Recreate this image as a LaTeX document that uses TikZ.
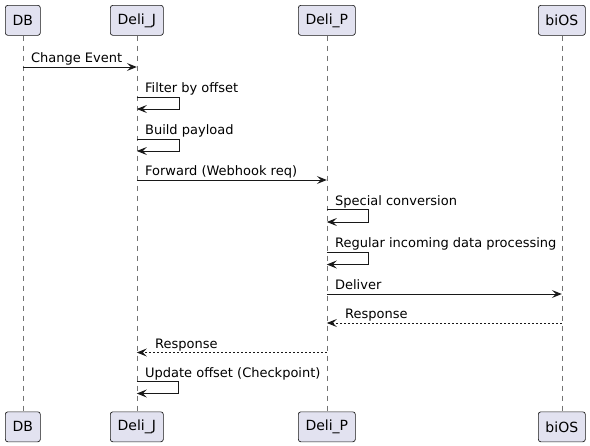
\documentclass[tikz,border=0pt]{standalone}
\usepackage{fontspec}
\setmainfont{DejaVu Sans}
\usetikzlibrary{arrows.meta}
\definecolor{boxfill}{HTML}{E2E2F0}
\definecolor{ink}{HTML}{181818}
\begin{document}
\begin{tikzpicture}[x=0.75pt,y=-0.75pt,
  part/.style={draw=ink, fill=boxfill, rounded corners=1.9pt, line width=0.5pt,
    inner sep=0pt, minimum height=22.5pt, anchor=north west,
    font=\fontsize{10.5pt}{12pt}\selectfont},
  life/.style={draw=ink!60, line width=0.5pt, dash pattern=on 3.75pt off 3.75pt},
  msg/.style={draw=ink, line width=0.75pt, -{Stealth[length=7.5pt,width=6pt,inset=3pt]}},
  ret/.style={msg, dash pattern=on 1.5pt off 1.5pt},
  lbl/.style={anchor=base west, inner sep=0pt, font=\fontsize{9.75pt}{11pt}\selectfont, text=black}]
\useasboundingbox (0,0) rectangle (590,446);
% participants top
\node[part, minimum width=26.25pt] (DBt) at (5,5) {DB};
\node[part, minimum width=39.75pt] (DJt) at (110,5) {Deli\_J};
\node[part, minimum width=42.75pt] (DPt) at (298,5) {Deli\_P};
\node[part, minimum width=35.25pt] (BIt) at (538,5) {biOS};
% participants bottom
\node[part, minimum width=26.25pt] (DBb) at (5,411.5) {DB};
\node[part, minimum width=39.75pt] (DJb) at (110,411.5) {Deli\_J};
\node[part, minimum width=42.75pt] (DPb) at (298,411.5) {Deli\_P};
\node[part, minimum width=35.25pt] (BIb) at (538,411.5) {biOS};
% lifelines
\draw[life] (DBt.south) -- (DBb.north);
\draw[life] (DJt.south) -- (DJb.north);
\draw[life] (DPt.south) -- (DPb.north);
\draw[life] (BIt.south) -- (BIb.north);
% messages
\draw[msg] (DBt.south |- 0,67) -- (DJt.south |- 0,67);
\node[lbl] (m1) at ([xshift=6pt]DBt.south |- 0,62.5) {Change Event};

\draw[msg] (DJt.south |- 0,97) -- ++(43,0) -- ++(0,12) -- (DJt.south |- 0,109);
\node[lbl] (m2) at ([xshift=6pt]DJt.south |- 0,92.5) {Filter by offset};

\draw[msg] (DJt.south |- 0,139) -- ++(43,0) -- ++(0,12) -- (DJt.south |- 0,151);
\node[lbl] (m3) at ([xshift=6pt]DJt.south |- 0,134.5) {Build payload};

\draw[msg] (DJt.south |- 0,180) -- (DPt.south |- 0,180);
\node[lbl] (m4) at ([xshift=6pt]DJt.south |- 0,175.5) {Forward (Webhook req)};

\draw[msg] (DPt.south |- 0,209.5) -- ++(42,0) -- ++(0,12.5) -- (DPt.south |- 0,222);
\node[lbl] (m5) at ([xshift=6pt]DPt.south |- 0,205) {Special conversion};

\draw[msg] (DPt.south |- 0,252) -- ++(42,0) -- ++(0,12.5) -- (DPt.south |- 0,264.5);
\node[lbl] (m6) at ([xshift=6pt]DPt.south |- 0,247.5) {Regular incoming data processing};

\draw[msg] (DPt.south |- 0,294) -- (BIt.south |- 0,294);
\node[lbl] (m7) at ([xshift=6pt]DPt.south |- 0,289.5) {Deliver};

\draw[ret] (BIt.south |- 0,323) -- (DPt.south |- 0,323);
\node[lbl] (m8) at ([xshift=13.5pt]DPt.south |- 0,318.5) {Response};

\draw[ret] (DPt.south |- 0,352.5) -- (DJt.south |- 0,352.5);
\node[lbl] (m9) at ([xshift=13.5pt]DJt.south |- 0,348) {Response};

\draw[msg] (DJt.south |- 0,381.5) -- ++(42,0) -- ++(0,12) -- (DJt.south |- 0,393.5);
\node[lbl] (m10) at ([xshift=6pt]DJt.south |- 0,377) {Update offset (Checkpoint)};
\end{tikzpicture}
\end{document}
